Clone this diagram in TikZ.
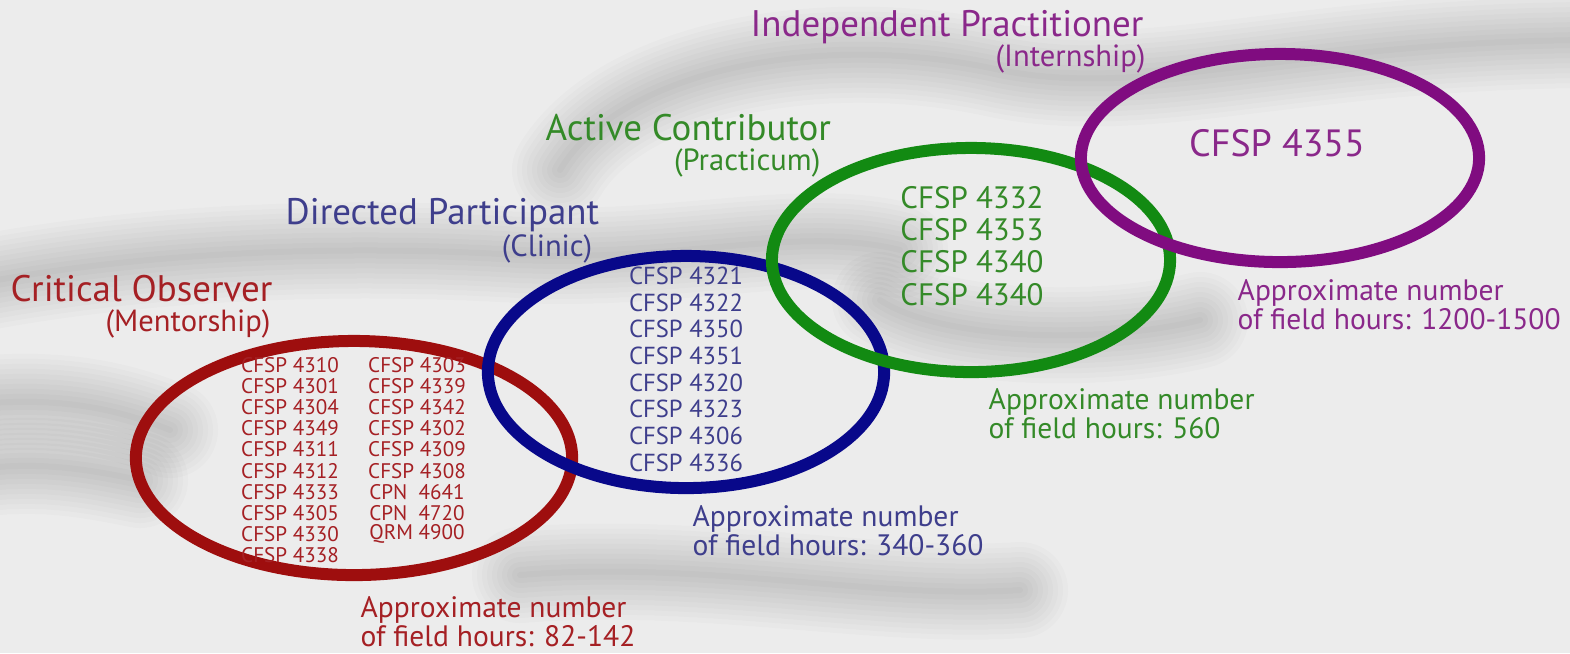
\documentclass[tikz,border=0pt]{standalone}
\usepackage{fontspec}
\setmainfont{PT Sans}
\usetikzlibrary{shapes.geometric,positioning}

% stage colours
\definecolor{obsred}{RGB}{158,14,14}
\definecolor{obstext}{RGB}{165,32,36}
\definecolor{partblue}{RGB}{8,8,138}
\definecolor{parttext}{RGB}{62,62,140}
\definecolor{contgreen}{RGB}{18,138,18}
\definecolor{conttext}{RGB}{52,138,40}
\definecolor{practpurple}{RGB}{128,12,128}
\definecolor{practtext}{RGB}{138,40,138}
\definecolor{backgray}{RGB}{236,236,236}

\tikzset{
  stage/.style={ellipse, draw, line width=0.12cm, inner sep=0pt},
  headline/.style={anchor=base west, inner sep=0pt, font=\fontsize{10.5}{12}\selectfont},
  subline/.style={anchor=base east, inner sep=0pt, font=\fontsize{8.7}{10}\selectfont},
  hourtext/.style={anchor=north west, inner sep=0pt, align=left, font=\fontsize{8.4}{8.3}\selectfont},
  course/.style={inner sep=0pt},
  swirl/.style={black, opacity=0.016, line cap=round}
}

\begin{document}
\begin{tikzpicture}[x=0.01cm, y=-0.01cm]
  % Background and soft swirl
  \fill[backgray] (0,0) rectangle (1570,653);
  \useasboundingbox (0,0) rectangle (1570,653);
  \foreach \w in {96,86,...,6}{
    \draw[swirl, line width=\w*0.2845pt]
      (-30,285) .. controls (150,250) and (350,245) .. (520,255)
      .. controls (680,262) and (800,225) .. (900,250);
    \draw[swirl, line width=\w*0.2845pt]
      (-30,405) .. controls (60,395) and (120,410) .. (170,430);
    \draw[swirl, line width=\w*0.2845pt]
      (560,170) .. controls (620,70) and (820,30) .. (1000,70)
      .. controls (1150,100) and (1300,40) .. (1600,40);
    \draw[swirl, line width=\w*0.2845pt]
      (880,300) .. controls (940,340) and (1100,345) .. (1200,320);
    \draw[swirl, line width=\w*0.2845pt]
      (520,575) .. controls (700,560) and (880,600) .. (1020,590);
    \draw[swirl, line width=\w*0.2845pt]
      (-30,470) .. controls (40,460) and (90,470) .. (140,480);
  }

  % Stages
  \node[stage, draw=obsred, minimum width=4.36cm, minimum height=2.34cm] (observer) at (354,458) {};
  \node[stage, draw=partblue, minimum width=3.96cm, minimum height=2.32cm] (participant) at (686,372) {};
  \node[stage, draw=contgreen, minimum width=3.98cm, minimum height=2.24cm] (contributor) at (971,260) {};
  \node[stage, draw=practpurple, minimum width=3.98cm, minimum height=2.08cm] (practitioner) at (1280,158) {};

  % Titles
  \node[headline, text=obstext] (obstitle) at (10,301) {Critical Observer};
  \node[subline, text=obstext] (obssub) at (271,331) {(Mentorship)};
  \node[headline, text=parttext] (parttitle) at (285,224) {Directed Participant};
  \node[subline, text=parttext] (partsub) at (593,256) {(Clinic)};
  \node[headline, text=conttext] (conttitle) at (545,140) {Active Contributor};
  \node[subline, text=conttext] (contsub) at (821,170) {(Practicum)};
  \node[headline, text=practtext] (practtitle) at (750,36) {Independent Practitioner};
  \node[subline, text=practtext] (practsub) at (1146,66) {(Internship)};

  % Courses, mentorship
  \foreach \c [count=\i] in {4310,4301,4304,4349,4311,4312,4333,4305,4330,4338}
    \node[course, text=obstext, font=\fontsize{6.0}{7}\selectfont] (obsa\i) at (290,344+21.1*\i) {CFSP \c};
  \foreach \c [count=\i] in {CFSP 4303,CFSP 4339,CFSP 4342,CFSP 4302,CFSP 4309,CFSP 4308,CPN\ \ 4641,CPN\ \ 4720,QRM 4900}
    \node[course, text=obstext, font=\fontsize{6.0}{7}\selectfont] (obsb\i) at (417,344+21.1*\i) {\c};

  % Courses, clinic
  \foreach \c [count=\i] in {4321,4322,4350,4351,4320,4323,4306,4336}
    \node[course, text=parttext, font=\fontsize{7.0}{8}\selectfont] (part\i) at (686,249+26.7*\i) {CFSP \c};

  % Courses, practicum
  \foreach \c [count=\i] in {4332,4353,4340,4340}
    \node[course, text=conttext, font=\fontsize{8.8}{10}\selectfont] (cont\i) at (972,165+32.3*\i) {CFSP \c};

  % Course, internship
  \node[course, text=practtext, font=\fontsize{10.8}{12}\selectfont] (pract1) at (1277,143) {CFSP 4355};

  % Field hours
  \node[hourtext, text=obstext] (obshours) at (360,596) {Approximate number\\of field hours: 82-142};
  \node[hourtext, text=parttext] (parthours) at (692,505) {Approximate number\\of field hours: 340-360};
  \node[hourtext, text=conttext] (conthours) at (988,388) {Approximate number\\of field hours: 560};
  \node[hourtext, text=practtext] (practhours) at (1237,279) {Approximate number\\of field hours: 1200-1500};
\end{tikzpicture}
\end{document}
